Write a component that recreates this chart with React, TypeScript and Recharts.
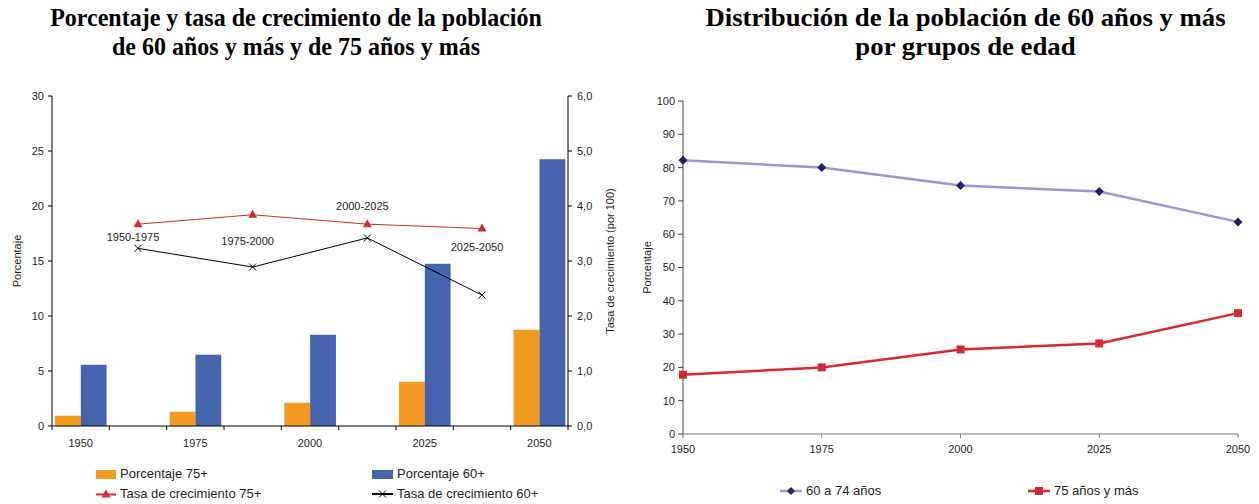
import React from 'react';
import { ComposedChart, LineChart, Bar, Line, XAxis, YAxis, LabelList } from 'recharts';

// ---------- data ----------
const yearLabels = [1950, 1975, 2000, 2025, 2050];
const pct75 = [0.93, 1.3, 2.11, 4.02, 8.74];
const pct60 = [5.56, 6.47, 8.29, 14.75, 24.26];
const periods = ['1950-1975', '1975-2000', '2000-2025', '2025-2050'];
const tasa75 = [3.67, 3.84, 3.67, 3.59];
const tasa60 = [3.23, 2.89, 3.42, 2.38];
const grupo6074 = [82.2, 80.0, 74.6, 72.8, 63.7];
const grupo75 = [17.8, 20.0, 25.4, 27.2, 36.3];

const pctTicks = [0, 5, 10, 15, 20, 25, 30];
const tasaTicks = [0, 1, 2, 3, 4, 5, 6];
const distTicks = [0, 10, 20, 30, 40, 50, 60, 70, 80, 90, 100];

// ---------- styles ----------
const ORANGE = '#F39A21';
const BLUE = '#4464AD';
const RED = '#D7282F';
const LAVENDER = '#9A9AD2';
const NAVY = '#1F1F6E';
const TXT = '#231F20';
const FONT = '"Liberation Sans", Arial, sans-serif';
const periodLabelDy = [13, 26, -18, 18];

// table for the left chart: bar slots and interval slots alternate
const leftData: any[] = [];
yearLabels.forEach((y, i) => {
  leftData.push({ slot: 2 * i + 0.5, year: y, p75: pct75[i], p60: pct60[i] });
  if (i < periods.length) {
    leftData.push({ slot: 2 * i + 1.5, periodo: periods[i], t75: tasa75[i], t60: tasa60[i] });
  }
});
const slotTicks = Array.from({ length: leftData.length + 1 }, (_, i) => i);
const yearSlots = leftData.filter((d) => d.year != null).map((d) => d.slot);
const yearOfSlot = (s: number) => {
  const r = leftData.find((d) => d.slot === s);
  return r && r.year != null ? String(r.year) : '';
};

const rightData = yearLabels.map((y, i) => ({ year: y, g6074: grupo6074[i], g75: grupo75[i] }));

// ---------- markers ----------
const TriangleDot = (props: any) => {
  const { cx, cy } = props;
  if (cx == null || cy == null || Number.isNaN(cy)) return <g />;
  return <path d={`M${cx},${cy - 5}L${cx + 4.5},${cy + 3}L${cx - 4.5},${cy + 3}Z`} fill={RED} />;
};
const CrossDot = (props: any) => {
  const { cx, cy } = props;
  if (cx == null || cy == null || Number.isNaN(cy)) return <g />;
  return (
    <path d={`M${cx - 3.5},${cy - 3.5}L${cx + 3.5},${cy + 3.5}M${cx - 3.5},${cy + 3.5}L${cx + 3.5},${cy - 3.5}`} stroke="#000" strokeWidth={1} />
  );
};
const DiamondDot = (props: any) => {
  const { cx, cy } = props;
  if (cx == null || cy == null) return <g />;
  return <path d={`M${cx},${cy - 4.5}L${cx + 4.5},${cy}L${cx},${cy + 4.5}L${cx - 4.5},${cy}Z`} fill={NAVY} />;
};
const SquareDot = (props: any) => {
  const { cx, cy } = props;
  if (cx == null || cy == null) return <g />;
  return <rect x={cx - 4} y={cy - 4} width={8} height={8} fill={RED} />;
};

const periodLabel = (p: any) => {
  const { x, y, value } = p;
  if (value == null || y == null || Number.isNaN(y)) return null;
  const k = periods.indexOf(String(value));
  return (
    <text x={x - 5} y={y + periodLabelDy[k]} textAnchor="middle" dominantBaseline="central" fontSize={11} fill={TXT} fontFamily={FONT}>
      {value}
    </text>
  );
};

const fmtComma = (v: number) => v.toFixed(1).replace('.', ',');

const titleStyle: React.CSSProperties = {
  position: 'absolute',
  top: 3,
  textAlign: 'center',
  fontFamily: '"Liberation Serif", "Times New Roman", serif',
  fontWeight: 'bold',
  fontSize: 25,
  lineHeight: '29px',
  color: '#000',
  whiteSpace: 'nowrap',
};

const legendText: React.CSSProperties = {
  position: 'absolute',
  fontFamily: FONT,
  fontSize: 13,
  lineHeight: '16px',
  color: TXT,
  whiteSpace: 'nowrap',
  display: 'flex',
  alignItems: 'center',
};

export default function App() {
  return (
    <div style={{ position: 'absolute', left: 0, top: 0, width: 1259, height: 504, background: '#fff', overflow: 'hidden' }}>
      <div style={{ ...titleStyle, left: 0, width: 592, transform: 'scaleX(0.96)' }}>
        Porcentaje y tasa de crecimiento de la población
        <br />
        de 60 años y más y de 75 años y más
      </div>
      <div style={{ ...titleStyle, left: 665, width: 601, transform: 'scaleX(1.07)' }}>
        Distribución de la población de 60 años y más
        <br />
        por grupos de edad
      </div>

      {/* left chart */}
      <div style={{ position: 'absolute', left: 0, top: 0 }}>
        <ComposedChart width={630} height={504} data={leftData} margin={{ top: 96, right: 12, bottom: 53, left: 12 }} barGap={0}>
          <XAxis
            xAxisId="main"
            type="number"
            dataKey="slot"
            domain={[0, slotTicks.length - 1]}
            ticks={slotTicks}
            interval={0}
            tickFormatter={() => ''}
            height={5}
            tickSize={4}
            stroke="#000"
            tick={{ fontSize: 1 }}
          />
          <XAxis
            xAxisId="yr"
            type="number"
            dataKey="slot"
            domain={[0, slotTicks.length - 1]}
            ticks={yearSlots}
            interval={0}
            tickFormatter={yearOfSlot}
            height={20}
            axisLine={false}
            tickLine={false}
            tick={{ fontSize: 11, fill: TXT, fontFamily: FONT }}
          />
          <YAxis
            yAxisId="pct"
            domain={[0, 30]}
            ticks={pctTicks}
            interval={0}
            width={40}
            tickSize={4}
            tickMargin={4}
            stroke="#000"
            tick={{ fontSize: 11, fill: TXT, fontFamily: FONT }}
            label={{ value: 'Porcentaje', angle: -90, position: 'center', dx: -15, style: { fontSize: 11, fill: TXT, fontFamily: FONT } }}
          />
          <YAxis
            yAxisId="tasa"
            orientation="right"
            domain={[0, 6]}
            ticks={tasaTicks}
            interval={0}
            width={50}
            tickSize={4}
            tickMargin={5}
            stroke="#000"
            tickFormatter={fmtComma}
            tick={{ fontSize: 11, fill: TXT, fontFamily: FONT }}
            label={{ value: 'Tasa de crecimiento (por 100)', angle: -90, position: 'center', dx: 17, style: { fontSize: 11, fill: TXT, fontFamily: FONT } }}
          />
          <Bar xAxisId="main" yAxisId="pct" dataKey="p75" barSize={29} fill={ORANGE} isAnimationActive={false} />
          <Bar xAxisId="main" yAxisId="pct" dataKey="p60" barSize={29} fill={BLUE} isAnimationActive={false} />
          <Line
            xAxisId="yr"
            yAxisId="tasa"
            dataKey="t75"
            stroke={RED}
            strokeWidth={1}
            connectNulls
            dot={(p: any) => <TriangleDot {...p} key={`t75-${p.index}`} />}
            activeDot={false}
            isAnimationActive={false}
          >
            <LabelList dataKey="periodo" content={periodLabel} />
          </Line>
          <Line
            xAxisId="yr"
            yAxisId="tasa"
            dataKey="t60"
            stroke="#000"
            strokeWidth={1}
            connectNulls
            dot={(p: any) => <CrossDot {...p} key={`t60-${p.index}`} />}
            activeDot={false}
            isAnimationActive={false}
          />
        </ComposedChart>
      </div>

      {/* left legend */}
      <div style={{ ...legendText, left: 96, top: 466 }}>
        <span style={{ display: 'inline-block', width: 20, height: 9, background: ORANGE, marginRight: 4 }} />
        Porcentaje 75+
      </div>
      <div style={{ ...legendText, left: 372, top: 466 }}>
        <span style={{ display: 'inline-block', width: 21, height: 9, background: BLUE, marginRight: 4 }} />
        Porcentaje 60+
      </div>
      <div style={{ ...legendText, left: 96, top: 486 }}>
        <svg width={20} height={10} style={{ marginRight: 4 }}>
          <line x1={0} y1={5.5} x2={20} y2={5.5} stroke={RED} strokeWidth={2} />
          <path d="M10,0.5L14.5,8.5L5.5,8.5Z" fill={RED} />
        </svg>
        Tasa de crecimiento 75+
      </div>
      <div style={{ ...legendText, left: 372, top: 486 }}>
        <svg width={21} height={10} style={{ marginRight: 4 }}>
          <line x1={0} y1={5} x2={21} y2={5} stroke="#000" strokeWidth={2} />
          <path d="M7,1.5L14,8.5M7,8.5L14,1.5" stroke="#000" strokeWidth={1} />
        </svg>
        Tasa de crecimiento 60+
      </div>

      {/* right chart */}
      <div style={{ position: 'absolute', left: 630, top: 0 }}>
        <LineChart width={629} height={504} data={rightData} margin={{ top: 101, right: 21, bottom: 40, left: 13 }}>
          <XAxis
            type="number"
            dataKey="year"
            domain={[1950, 2050]}
            ticks={yearLabels}
            interval={0}
            height={30}
            tickSize={4}
            tickMargin={7}
            stroke="#777"
            tick={{ fontSize: 11, fill: TXT, fontFamily: FONT }}
          />
          <YAxis
            domain={[0, 100]}
            ticks={distTicks}
            interval={0}
            width={40}
            tickSize={5}
            tickMargin={3}
            stroke="#444"
            tick={{ fontSize: 11, fill: TXT, fontFamily: FONT }}
            label={{ value: 'Porcentaje', angle: -90, position: 'center', dx: -16, style: { fontSize: 11, fill: TXT, fontFamily: FONT } }}
          />
          <Line
            dataKey="g6074"
            stroke={LAVENDER}
            strokeWidth={2.5}
            dot={(p: any) => <DiamondDot {...p} key={`g1-${p.index}`} />}
            activeDot={false}
            isAnimationActive={false}
          />
          <Line
            dataKey="g75"
            stroke={RED}
            strokeWidth={2.5}
            dot={(p: any) => <SquareDot {...p} key={`g2-${p.index}`} />}
            activeDot={false}
            isAnimationActive={false}
          />
        </LineChart>
      </div>

      {/* right legend */}
      <div style={{ ...legendText, left: 780, top: 483 }}>
        <svg width={22} height={10} style={{ marginRight: 4 }}>
          <line x1={0} y1={5} x2={22} y2={5} stroke={LAVENDER} strokeWidth={2.5} />
          <path d="M11,1L15,5L11,9L7,5Z" fill={NAVY} />
        </svg>
        60 a 74 años
      </div>
      <div style={{ ...legendText, left: 1028, top: 483 }}>
        <svg width={22} height={10} style={{ marginRight: 4 }}>
          <line x1={0} y1={5} x2={22} y2={5} stroke={RED} strokeWidth={2.5} />
          <rect x={7} y={1} width={8} height={8} fill={RED} />
        </svg>
        75 años y más
      </div>
    </div>
  );
}
